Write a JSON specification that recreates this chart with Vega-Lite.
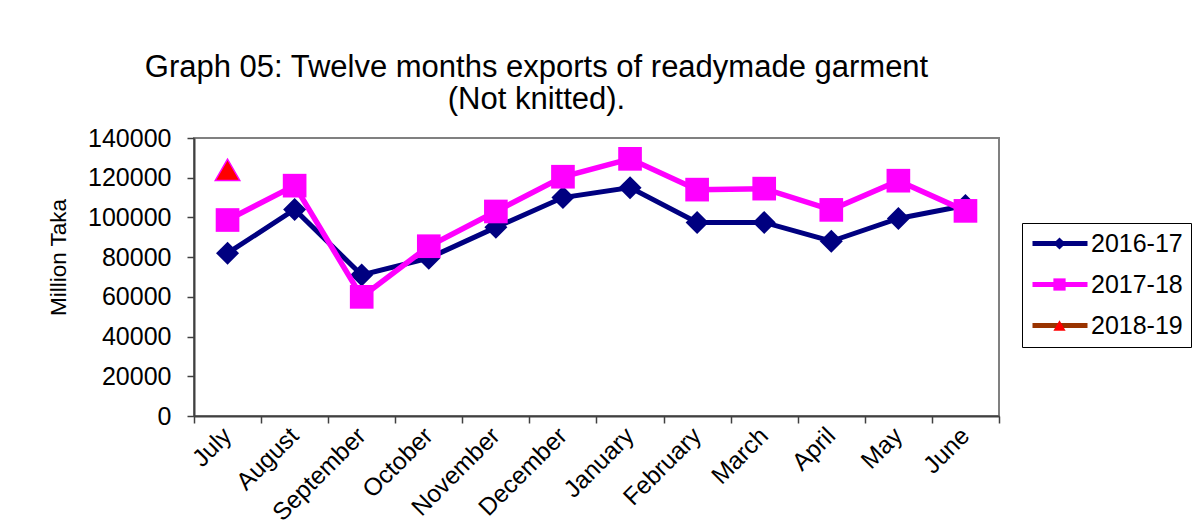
{
  "$schema": "https://vega.github.io/schema/vega-lite/v6.json",
  "width": 805,
  "height": 278,
  "autosize": {"type": "none"},
  "padding": {"left": 194, "top": 138, "right": 201, "bottom": 112},
  "background": "white",
  "title": {
    "text": ["Graph 05: Twelve months exports of readymade garment", "(Not knitted)."],
    "font": "Liberation Sans",
    "fontSize": 31,
    "fontWeight": "normal",
    "color": "black",
    "anchor": "middle",
    "frame": "group",
    "dx": -60,
    "offset": 10,
    "lineHeight": 32
  },
  "config": {
    "font": "Liberation Sans",
    "view": {"stroke": "#808080", "strokeWidth": 2},
    "axis": {"labelFont": "Liberation Sans", "titleFont": "Liberation Sans", "labelColor": "black", "titleColor": "black", "domainColor": "#404040", "domainWidth": 2, "tickColor": "#404040", "tickWidth": 1.5, "grid": false},
    "legend": {"labelFont": "Liberation Sans"}
  },
  "data": {
    "values": [
      {"month": "July", "series": "2016-17", "value": 82000},
      {"month": "August", "series": "2016-17", "value": 104000},
      {"month": "September", "series": "2016-17", "value": 71000},
      {"month": "October", "series": "2016-17", "value": 79500},
      {"month": "November", "series": "2016-17", "value": 95000},
      {"month": "December", "series": "2016-17", "value": 110000},
      {"month": "January", "series": "2016-17", "value": 115000},
      {"month": "February", "series": "2016-17", "value": 97500},
      {"month": "March", "series": "2016-17", "value": 97500},
      {"month": "April", "series": "2016-17", "value": 88000},
      {"month": "May", "series": "2016-17", "value": 99500},
      {"month": "June", "series": "2016-17", "value": 106000},
      {"month": "July", "series": "2017-18", "value": 98700},
      {"month": "August", "series": "2017-18", "value": 116000},
      {"month": "September", "series": "2017-18", "value": 60000},
      {"month": "October", "series": "2017-18", "value": 85500},
      {"month": "November", "series": "2017-18", "value": 103000},
      {"month": "December", "series": "2017-18", "value": 120500},
      {"month": "January", "series": "2017-18", "value": 129500},
      {"month": "February", "series": "2017-18", "value": 114000},
      {"month": "March", "series": "2017-18", "value": 114500},
      {"month": "April", "series": "2017-18", "value": 103800},
      {"month": "May", "series": "2017-18", "value": 118500},
      {"month": "June", "series": "2017-18", "value": 103300},
      {"month": "July", "series": "2018-19", "value": 124000}
    ]
  },
  "encoding": {
    "x": {
      "field": "month",
      "type": "nominal",
      "sort": ["July", "August", "September", "October", "November", "December", "January", "February", "March", "April", "May", "June"],
      "scale": {"type": "band", "paddingInner": 0, "paddingOuter": 0},
      "axis": {"title": null, "labelAngle": -45, "labelAlign": "right", "labelBaseline": "middle", "labelFontSize": 24.5, "labelPadding": 9, "tickBand": "extent", "tickSize": 7}
    },
    "y": {
      "field": "value",
      "type": "quantitative",
      "scale": {"domain": [0, 140000]},
      "axis": {
        "title": "Million Taka",
        "values": [0, 20000, 40000, 60000, 80000, 100000, 120000, 140000],
        "format": "d",
        "labelFontSize": 25,
        "tickSize": 7,
        "labelPadding": 16,
        "titleFontSize": 22.5,
        "titleFontWeight": "normal",
        "titleX": -124,
        "titleY": 119,
        "titleAngle": -90,
        "titleAlign": "center",
        "titleBaseline": "bottom"
      }
    }
  },
  "layer": [
    {
      "transform": [{"filter": "datum.series === '2016-17'"}],
      "mark": {"type": "line", "strokeWidth": 5},
      "encoding": {
        "stroke": {
          "field": "series",
          "type": "nominal",
          "scale": {"domain": ["2016-17", "2017-18", "2018-19"], "range": ["#000080", "#ff00ff", "#993300"]},
          "legend": {"orient": "none", "legendX": 828, "legendY": 85, "title": null, "symbolType": "stroke", "symbolSize": 3025, "symbolStrokeWidth": 5, "clipHeight": 25, "labelFontSize": 25, "labelColor": "black", "labelOffset": 1, "strokeColor": "black", "padding": 8, "rowPadding": 15}
        }
      }
    },
    {
      "transform": [{"filter": "datum.series === '2016-17'"}],
      "mark": {"type": "point", "filled": true, "size": 530, "opacity": 1},
      "encoding": {
        "fill": {
          "field": "series",
          "type": "nominal",
          "scale": {"range": ["#000080", "#ff00ff", "#ff0000"]},
          "legend": {"orient": "none", "legendX": 845, "legendY": 85, "title": null, "symbolSize": 150, "symbolStrokeWidth": 0, "symbolOpacity": 1, "labelFontSize": 25, "labelExpr": "' '", "labelOpacity": 0, "padding": 8, "rowPadding": 15}
        },
        "shape": {
          "field": "series",
          "type": "nominal",
          "scale": {"range": ["diamond", "square", "triangle-up"]},
          "legend": {"orient": "none", "legendX": 845, "legendY": 85, "title": null, "symbolSize": 150, "symbolStrokeWidth": 0, "symbolOpacity": 1, "labelFontSize": 25, "labelExpr": "' '", "labelOpacity": 0, "padding": 8, "rowPadding": 15}
        }
      }
    },
    {
      "transform": [{"filter": "datum.series === '2017-18'"}],
      "mark": {"type": "line", "strokeWidth": 5.5},
      "encoding": {
        "stroke": {"field": "series", "type": "nominal"}
      }
    },
    {
      "transform": [{"filter": "datum.series === '2017-18'"}],
      "mark": {"type": "point", "filled": true, "size": 560, "opacity": 1},
      "encoding": {
        "fill": {"field": "series", "type": "nominal"},
        "shape": {"field": "series", "type": "nominal"}
      }
    },
    {
      "transform": [{"filter": "datum.series === '2018-19'"}],
      "mark": {"type": "point", "filled": true, "size": 600, "opacity": 1, "stroke": "#ff00ff", "strokeWidth": 1.5},
      "encoding": {
        "fill": {"field": "series", "type": "nominal"},
        "shape": {"field": "series", "type": "nominal"}
      }
    }
  ]
}
